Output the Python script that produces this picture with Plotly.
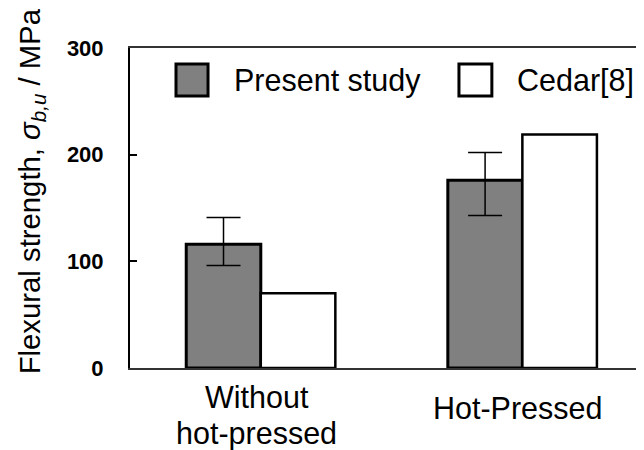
import plotly.graph_objects as go

categories = ["Without<br>hot-pressed", "Hot-Pressed"]
present_study = [116, 176]
present_err_plus = [25, 26]
present_err_minus = [20, 33]
cedar = [70, 219]
y_ticks = [0, 100, 200, 300]
series_names = ["Present study", "Cedar[8]"]

FONT = "Liberation Sans, Arial, sans-serif"
xpos = list(range(len(categories)))

fig = go.Figure()
fig.add_trace(go.Bar(
    x=xpos, y=present_study, name=series_names[0],
    marker=dict(color="#808080", line=dict(color="black", width=3)),
    error_y=dict(type="data", symmetric=False, array=present_err_plus,
                 arrayminus=present_err_minus, color="black", thickness=1.5, width=17),
    showlegend=False,
))
fig.add_trace(go.Bar(
    x=xpos, y=cedar, name=series_names[1],
    marker=dict(color="white", line=dict(color="black", width=2.5)),
    showlegend=False,
))

# page body has an 8px margin, so the figure is sized/offset to compensate
fig.update_layout(
    width=636, height=442,
    margin=dict(l=122, r=0, t=40, b=82),
    paper_bgcolor="white", plot_bgcolor="white",
    barmode="group", bargap=0.43, bargroupgap=0,
    font=dict(family=FONT, color="black"),
    showlegend=False,
)
fig.update_xaxes(
    range=[-0.5, 1.465], tickvals=xpos, showticklabels=False, ticks="",
    showline=True, linecolor="#333333", linewidth=2, mirror=True,
    showgrid=False, zeroline=False,
)
fig.update_yaxes(
    range=[0, 300], tickvals=y_ticks, ticks="inside", ticklen=7, tickwidth=1.5,
    tickcolor="black", showline=True, linecolor="black", linewidth=2,
    showgrid=False, zeroline=False,
    tickfont=dict(size=22, family=FONT, weight="bold"),
    ticklabelstandoff=20,
)

# category labels (each line placed separately for tighter line spacing)
for i, lab in enumerate(categories):
    lines = lab.split("<br>")
    n = len(lines)
    for j, ln in enumerate(lines):
        shift = -40 - (j - (n - 1) / 2) * 36 - (7 if n > 1 else 0)
        fig.add_annotation(x=xpos[i], y=0, xref="x", yref="paper", text=ln,
                           showarrow=False, xanchor="center", yanchor="middle",
                           yshift=shift, xshift=-4,
                           font=dict(size=30.5, family=FONT))

# y-axis title
fig.add_annotation(x=0, y=0.552, xref="paper", yref="paper",
                   text="Flexural strength, <i>σ</i><sub><i>b,u</i></sub> / MPa",
                   textangle=-90, showarrow=False, xanchor="center", yanchor="middle",
                   xshift=-99, font=dict(size=29.3, family=FONT))

# legend (manual)
legend_items = [
    (series_names[0], "#808080", 0.0895, 0.1518, 0.1984),
    (series_names[1], "white", 0.640, 0.704, 0.749),
]
for name, col, x0, x1, tx in legend_items:
    fig.add_shape(type="rect", xref="paper", yref="paper", x0=x0, x1=x1, y0=0.85, y1=0.95,
                  fillcolor=col, line=dict(color="black", width=3))
    fig.add_annotation(x=tx, y=0.9, xref="paper", yref="paper", text=name,
                       showarrow=False, xanchor="left", yanchor="middle",
                       font=dict(size=30.5, family=FONT))

fig.write_html("out.html")
